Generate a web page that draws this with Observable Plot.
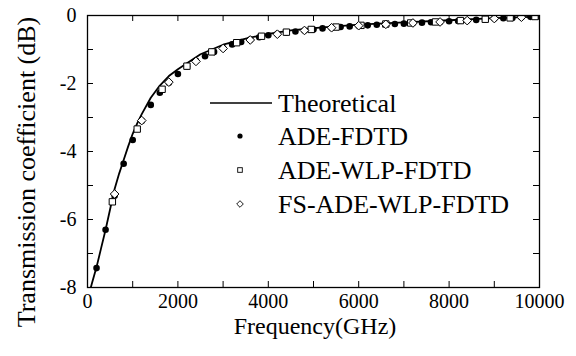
<!DOCTYPE html>
<html>
<head>
<meta charset="utf-8">
<script src="https://cdn.jsdelivr.net/npm/d3@7"></script>
<script src="https://cdn.jsdelivr.net/npm/@observablehq/plot@0.6"></script>
<style>
  html, body { margin: 0; padding: 0; background: #fff; }
  #chart { width: 576px; height: 356px; }
</style>
</head>
<body>
<div id="chart"></div>
<script>
// ---- data ----
const seriesNames = ["Theoretical", "ADE-FDTD", "ADE-WLP-FDTD", "FS-ADE-WLP-FDTD"];

const theoryFreq = [73, 100, 200, 300, 400, 500, 600, 700, 800, 900, 1000, 1100, 1200, 1400, 1600, 1800, 2000, 2500, 3000, 3500, 4000, 4500, 5000, 6000, 7000, 8000, 9000, 10000];
const theoryDb   = [-8, -7.87, -7.4, -6.85, -6.3, -5.7, -5.1, -4.65, -4.25, -3.85, -3.48, -3.17, -2.9, -2.42, -2.06, -1.78, -1.58, -1.14, -0.86, -0.68, -0.54, -0.44, -0.37, -0.27, -0.2, -0.14, -0.08, -0.03];

const fdtdFreq = [200, 400, 600, 800, 1000, 1200, 1400, 1600, 1800, 2000, 2200, 2400, 2600, 2800, 3000, 3200, 3400, 3600, 3800, 4000, 4200, 4400, 4600, 4800, 5000, 5200, 5400, 5600, 5800, 6000, 6200, 6400, 6600, 6800, 7000, 7200, 7400, 7600, 7800, 8000, 8200, 8400, 8600, 8800, 9000, 9200, 9400, 9600, 9800, 10000];
const fdtdDb   = [-7.43, -6.3, -5.3, -4.36, -3.66, -3.1, -2.63, -2.27, -1.98, -1.72, -1.5, -1.33, -1.2, -1.07, -0.96, -0.85, -0.78, -0.71, -0.64, -0.58, -0.54, -0.5, -0.47, -0.44, -0.41, -0.38, -0.36, -0.34, -0.32, -0.3, -0.29, -0.27, -0.26, -0.25, -0.24, -0.22, -0.21, -0.2, -0.19, -0.17, -0.16, -0.15, -0.13, -0.11, -0.09, -0.08, -0.07, -0.05, -0.04, -0.03];

const wlpFreq = [550, 1100, 1650, 2200, 2750, 3300, 3850, 4400, 4950, 5500, 6050, 6600, 7150, 7700, 8250, 8800, 9350, 9900];
const wlpDb   = [-5.48, -3.34, -2.17, -1.49, -1.07, -0.8, -0.61, -0.49, -0.41, -0.34, -0.29, -0.25, -0.22, -0.19, -0.15, -0.11, -0.07, -0.03];

const fsFreq = [600, 1200, 1800, 2400, 3000, 3600, 4200, 4800, 5400, 6000, 6600, 7200, 7800, 8400, 9000, 9600];
const fsDb   = [-5.25, -3.09, -1.96, -1.35, -0.97, -0.72, -0.55, -0.44, -0.36, -0.3, -0.26, -0.22, -0.19, -0.15, -0.09, -0.05];

const xMajorTicks = [0, 2000, 4000, 6000, 8000, 10000];
const xAllTicks = [1000, 2000, 3000, 4000, 5000, 6000, 7000, 8000, 9000];
const yMajorTicks = [0, -2, -4, -6, -8];
const yAllTicks = [-1, -2, -3, -4, -5, -6, -7];

const xLabel = "Frequency(GHz)";
const yLabel = "Transmission coefficient (dB)";

// ---- build tables ----
const theory = theoryFreq.map((f, i) => ({f, v: theoryDb[i]}));
const fdtd = fdtdFreq.map((f, i) => ({f, v: fdtdDb[i]}));
const wlp = wlpFreq.map((f, i) => ({f, v: wlpDb[i]}));
const fs = fsFreq.map((f, i) => ({f, v: fsDb[i]}));

const W = 576, H = 356;
const mL = 87, mR = 37, mT = 15, mB = 69;
const fw = W - mL - mR, fh = H - mT - mB;
const tk = 6;
const font = "'Liberation Serif', 'Times New Roman', 'Liberation Sans', sans-serif";

const chart = Plot.plot({
  width: W,
  height: H,
  marginLeft: mL,
  marginRight: mR,
  marginTop: mT,
  marginBottom: mB,
  style: {fontFamily: font, fontSize: "20px", color: "#000", background: "#fff", overflow: "visible"},
  x: {domain: [0, 10000]},
  y: {domain: [-8, 0]},
  marks: [
    Plot.axisX({ticks: xMajorTicks, tickSize: 0, tickPadding: 6, tickFormat: d => String(d), label: null, fontSize: 20}),
    Plot.axisY({ticks: yMajorTicks, tickSize: 0, tickPadding: 11, tickFormat: d => String(d), label: null, fontSize: 20}),
    // inward ticks on all four sides
    Plot.tickX(xAllTicks, {x: d => d, insetTop: fh - tk, stroke: "#000", strokeWidth: 1}),
    Plot.tickX(xAllTicks, {x: d => d, insetBottom: fh - tk, stroke: "#000", strokeWidth: 1}),
    Plot.tickY(yAllTicks, {y: d => d, insetRight: fw - tk, stroke: "#000", strokeWidth: 1}),
    Plot.tickY(yAllTicks, {y: d => d, insetLeft: fw - tk, stroke: "#000", strokeWidth: 1}),
    Plot.line(theory, {x: "f", y: "v", stroke: "#000", strokeWidth: 1.8, clip: true}),
    Plot.dot(fdtd, {x: "f", y: "v", r: 3.3, fill: "#000", stroke: "none", clip: true}),
    Plot.dot(wlp, {x: "f", y: "v", symbol: "square", r: 3.6, fill: "#fff", stroke: "#000", strokeWidth: 1, clip: true}),
    Plot.dot(fs, {x: "f", y: "v", symbol: "diamond2", r: 3.9, fill: "#fff", stroke: "#000", strokeWidth: 1, clip: true}),
    Plot.frame({stroke: "#000", strokeWidth: 1.3})
  ]
});

document.getElementById("chart").appendChild(chart);

// ---- axis titles and legend ----
const svg = d3.select(chart);
svg.append("text")
  .attr("x", mL + fw / 2 + 2).attr("y", 334)
  .attr("text-anchor", "middle")
  .style("font-family", font)
  .attr("font-size", 24).attr("fill", "#000")
  .text(xLabel);
svg.append("text")
  .attr("transform", `translate(35,172) rotate(-90)`)
  .attr("text-anchor", "middle")
  .style("font-family", font)
  .attr("font-size", 26).attr("fill", "#000")
  .text(yLabel);

const lg = svg.append("g").attr("font-size", 26).attr("fill", "#000").attr("text-anchor", "start").style("font-family", font);
const rowY = [103, 136, 170, 204];
const symX = 240, txtX = 278;
seriesNames.forEach((name, i) => {
  lg.append("text").attr("x", txtX).attr("y", rowY[i]).attr("dy", "0.35em").attr("text-anchor", "start").text(name);
});
lg.append("line").attr("x1", 210).attr("x2", 272).attr("y1", rowY[0]).attr("y2", rowY[0]).attr("stroke", "#000").attr("stroke-width", 1.3);
lg.append("circle").attr("cx", symX).attr("cy", rowY[1]).attr("r", 2.6).attr("fill", "#000");
lg.append("rect").attr("x", symX - 2.3).attr("y", rowY[2] - 2.3).attr("width", 4.6).attr("height", 4.6).attr("fill", "#fff").attr("stroke", "#000").attr("stroke-width", 0.9);
lg.append("path").attr("d", `M${symX},${rowY[3]-3.3}L${symX+3.3},${rowY[3]}L${symX},${rowY[3]+3.3}L${symX-3.3},${rowY[3]}Z`).attr("fill", "#fff").attr("stroke", "#000").attr("stroke-width", 0.9);
</script>
</body>
</html>
